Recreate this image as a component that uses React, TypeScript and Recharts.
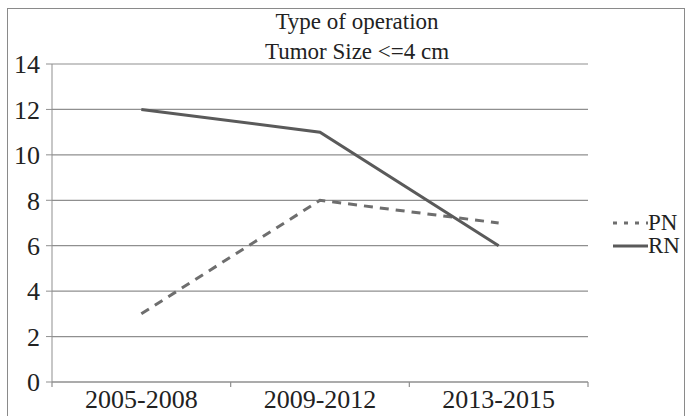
import React from 'react';
import { LineChart, Line, XAxis, YAxis, CartesianGrid } from 'recharts';

const periods = ['2005-2008', '2009-2012', '2013-2015'];
const pnValues = [3, 8, 7];
const rnValues = [12, 11, 6];
const yTicks = [0, 2, 4, 6, 8, 10, 12, 14];
// засечки на границах категорий + подписи в середине
const xTicks = [0, 0.5, 1, 1.5, 2, 2.5, 3];

const chartData = periods.map((period, i) => ({
  pos: i + 0.5,
  period,
  PN: pnValues[i],
  RN: rnValues[i],
}));

const font = "'Liberation Serif', 'Times New Roman', 'DejaVu Serif', serif";
const textColor = '#222';
const axisColor = '#8f8f8f';
const tickStyle = { fontFamily: font, fontSize: 26 };

const XTick = ({ x, y, payload }: any) => {
  const v = payload.value;
  if (Number.isInteger(v)) {
    return <line x1={x} y1={y} x2={x} y2={y + 5} stroke={axisColor} strokeWidth={1.2} />;
  }
  const label = periods[Math.floor(v)];
  return (
    <text x={x} y={y + 8} dy="0.71em" textAnchor="middle" fill={textColor} style={tickStyle}>
      {label}
    </text>
  );
};

const YTick = ({ x, y, payload }: any) => (
  <text x={x} y={y} dy="0.355em" textAnchor="end" fill={textColor} style={tickStyle}>
    {payload.value}
  </text>
);

const LegendBlock = () => (
  <div
    style={{
      position: 'absolute',
      left: 612,
      top: 211,
      fontFamily: font,
      fontSize: 23,
      color: textColor,
      lineHeight: '23px',
    }}
  >
    <div style={{ display: 'flex', alignItems: 'center' }}>
      <svg width={36} height={10}>
        <line x1={1} y1={5} x2={36} y2={5} stroke="#6e6e6e" strokeWidth={3} strokeDasharray="4 7" />
      </svg>
      <span>PN</span>
    </div>
    <div style={{ display: 'flex', alignItems: 'center' }}>
      <svg width={36} height={10}>
        <line x1={1} y1={5} x2={36} y2={5} stroke="#5a5a5a" strokeWidth={3} />
      </svg>
      <span>RN</span>
    </div>
  </div>
);

export default function App() {
  return (
    <div style={{ position: 'absolute', left: 0, top: 0, width: 685, height: 416, overflow: 'hidden', background: '#fff' }}>
      <div
        style={{
          position: 'absolute',
          left: 7,
          top: 8,
          width: 676,
          height: 420,
          border: '1px solid #8a8a8a',
        }}
      />
      <div
        style={{
          position: 'absolute',
          left: 0,
          top: 7,
          width: 714,
          textAlign: 'center',
          fontFamily: font,
          fontSize: 23,
          lineHeight: '30px',
          color: textColor,
        }}
      >
        <div>Type of operation</div>
        <div>Tumor Size &lt;=4 cm</div>
      </div>
      <div style={{ position: 'absolute', left: 0, top: 0 }}>
        <LineChart width={685} height={416} data={chartData} margin={{ top: 64, right: 97, left: 7, bottom: 4 }}>
          <CartesianGrid vertical={false} stroke={axisColor} strokeWidth={1.2} />
          <XAxis
            dataKey="pos"
            type="number"
            domain={[0, 3]}
            ticks={xTicks}
            interval={0}
            height={30}
            tickSize={0}
            tickMargin={0}
            tickLine={false}
            stroke={axisColor}
            tick={<XTick />}
          />
          <YAxis
            width={45}
            domain={[0, 14]}
            ticks={yTicks}
            tickSize={6}
            tickMargin={6}
            stroke={axisColor}
            tick={<YTick />}
            interval={0}
          />
          <Line
            type="linear"
            dataKey="PN"
            stroke="#6e6e6e"
            strokeWidth={3}
            strokeDasharray="9 7"
            dot={false}
            isAnimationActive={false}
          />
          <Line
            type="linear"
            dataKey="RN"
            stroke="#5a5a5a"
            strokeWidth={3}
            dot={false}
            isAnimationActive={false}
          />
        </LineChart>
      </div>
      <LegendBlock />
    </div>
  );
}
